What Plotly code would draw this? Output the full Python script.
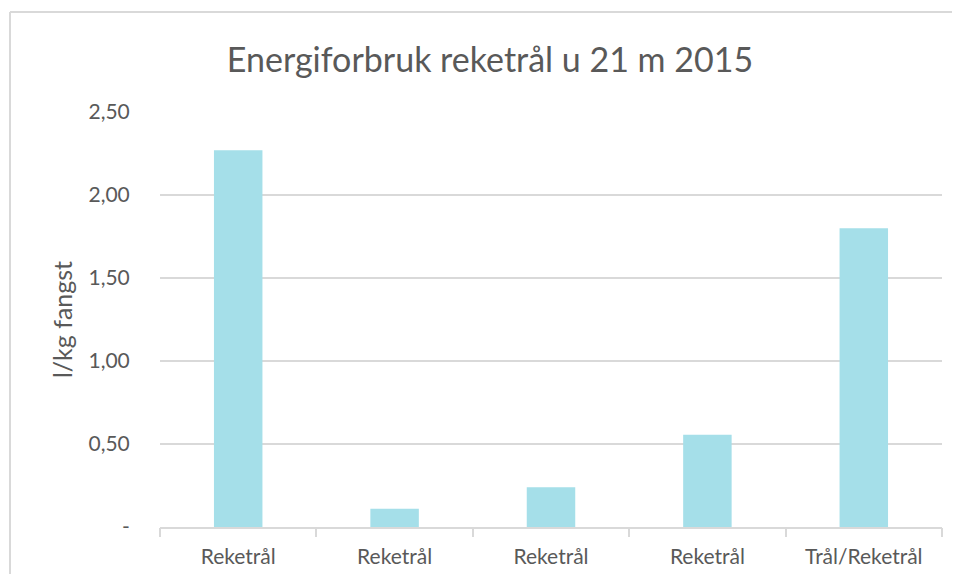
import plotly.graph_objects as go

categories = ["Reketrål", "Reketrål", "Reketrål", "Reketrål", "Trål/Reketrål"]
values = [2.27, 0.11, 0.24, 0.555, 1.80]
y_tickvals = [0, 0.5, 1.0, 1.5, 2.0, 2.5]
y_ticktext = ["-", "0,50", "1,00", "1,50", "2,00", "2,50"]
title_text = "Energiforbruk reketrål u 21 m 2015"
y_title = "l/kg fangst"

FONT = "Lato, 'Open Sans', sans-serif"
GRAY = "#595959"
GRID = "#d9d9d9"

x_pos = list(range(len(categories)))
boundaries = [i - 0.5 for i in range(len(categories) + 1)]

fig = go.Figure()
fig.add_trace(go.Bar(x=x_pos, y=values, width=0.31, marker=dict(color="#a5dfe9", line=dict(width=0)),
                     showlegend=False, hoverinfo="y"))
fig.add_trace(go.Scatter(x=[boundaries[0], boundaries[-1]], y=[0, 0], xaxis="x2", mode="markers",
                         marker=dict(opacity=0), showlegend=False, hoverinfo="skip"))

OFF = 8  # page body margin
W, H = 960 - 2 * OFF, 582 - 2 * OFF
L, T = 160 - OFF, 112 - OFF
R = W - (942 - OFF)
B = H - (527 - OFF)
pw = W - L - R
ph = H - T - B

def px_x(px):
    return (px - OFF - L) / pw

def px_y(py):
    return (H - B - (py - OFF)) / ph

fig.update_layout(
    width=W, height=H,
    margin=dict(l=L, r=R, t=T, b=B),
    paper_bgcolor="white", plot_bgcolor="white",
    title=dict(text=title_text, x=px_x(490), xref="paper", xanchor="center",
               y=1 - (60 - OFF) / H, yanchor="middle",
               font=dict(family=FONT, size=34, color=GRAY)),
    font=dict(family=FONT, color=GRAY),
    xaxis=dict(range=[boundaries[0], boundaries[-1]], tickvals=x_pos, ticktext=categories,
               showgrid=False, zeroline=False, showline=True, linecolor=GRID, linewidth=1.5,
               ticks="outside", ticklen=10, tickcolor="rgba(0,0,0,0)", automargin=False,
               tickfont=dict(family=FONT, size=21, color=GRAY), fixedrange=True),
    xaxis2=dict(range=[boundaries[0], boundaries[-1]], overlaying="x", side="bottom",
                tickvals=boundaries, ticks="outside", ticklen=9, tickcolor=GRID, tickwidth=1.5,
                automargin=False,
                showticklabels=False, showgrid=False, zeroline=False, showline=False),
    yaxis=dict(range=[0, 2.5], tickvals=y_tickvals, ticktext=y_ticktext,
               showgrid=True, gridcolor=GRID, gridwidth=1.5, zeroline=False, showline=False,
               ticks="outside", ticklen=25, tickcolor="rgba(0,0,0,0)", automargin=False,
               tickfont=dict(family=FONT, size=21, color=GRAY),
               title=dict(text=y_title, font=dict(family=FONT, size=25, color=GRAY), standoff=8)),
    shapes=[
        dict(type="line", xref="paper", yref="paper",
             x0=px_x(10), x1=px_x(975), y0=px_y(12), y1=px_y(12),
             line=dict(color="#d9d9d9", width=2)),
        dict(type="line", xref="paper", yref="paper",
             x0=px_x(10), x1=px_x(10), y0=px_y(12), y1=px_y(600),
             line=dict(color="#d9d9d9", width=2)),
    ],
)

fig.write_html("out.html")
